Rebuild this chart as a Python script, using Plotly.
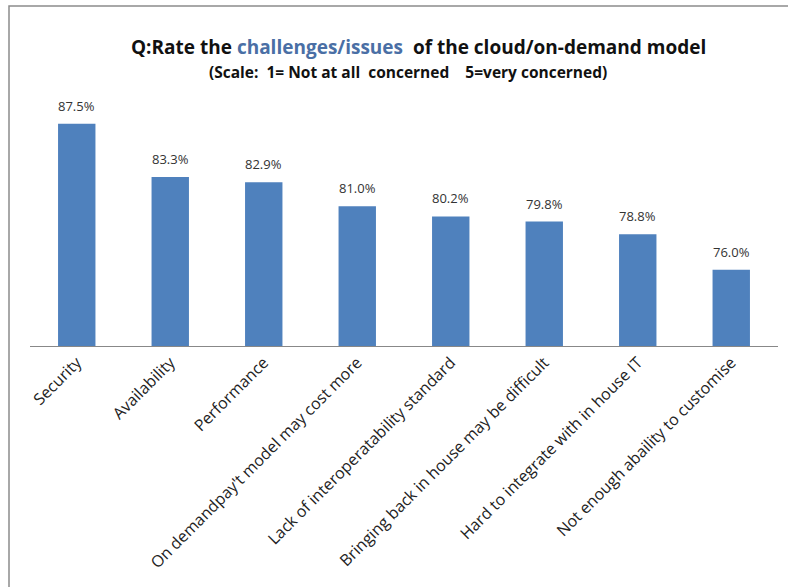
import plotly.graph_objects as go

categories = ["Security", "Availability", "Performance", "On demandpay't model may cost more",
              "Lack of interoperatability standard", "Bringing back in house may be difficult",
              "Hard to integrate with in house IT", "Not enough abaility to customise"]
values = [87.5, 83.3, 82.9, 81.0, 80.2, 79.8, 78.8, 76.0]
labels = [f"{v:.1f}%" for v in values]

FONT = "Open Sans"
W, H = 788, 587
ml, mr, mt, mb = 30, 10, 92, 241
pw, ph = W - ml - mr, H - mt - mb

def px_x(x):
    return (x - ml) / pw

def px_y(y):
    return (H - mb - y) / ph

fig = go.Figure(go.Bar(
    x=categories, y=values,
    marker=dict(color="#4F81BD", line=dict(width=0)),
))

value_annotations = [
    dict(x=c, y=v, xref="x", yref="y", text=t, showarrow=False,
         xanchor="center", yanchor="middle", yshift=18,
         font=dict(family=FONT, size=13, color="#333333"))
    for c, v, t in zip(categories, values, labels)
]

fig.update_layout(
    width=W, height=H,
    margin=dict(l=ml, r=mr, t=mt, b=mb, autoexpand=False),
    paper_bgcolor="white", plot_bgcolor="white",
    bargap=0.6, showlegend=False,
    xaxis=dict(tickangle=-45, automargin=False,
               tickfont=dict(family=FONT, size=16, color="#222222"),
               showline=True, linecolor="#888888", linewidth=1, ticks="", showgrid=False),
    yaxis=dict(range=[70, 90], visible=False, automargin=False),
    shapes=[dict(type="rect", xref="paper", yref="paper",
                 x0=px_x(9), x1=px_x(800), y0=px_y(600), y1=px_y(6),
                 line=dict(color="#8c8c8c", width=1.5), fillcolor="rgba(0,0,0,0)", layer="below")],
    annotations=value_annotations + [
        dict(text="Q:Rate the <span style='color:#4A6FA5'>challenges/issues</span>&nbsp; of the cloud/on-demand model",
             xref="paper", yref="paper", x=px_x(418), y=px_y(47), showarrow=False,
             xanchor="center", yanchor="middle",
             font=dict(family=FONT, size=19, color="#111111", weight="bold")),
        dict(text="(Scale:&nbsp; 1= Not at all&nbsp; concerned&nbsp;&nbsp;&nbsp; 5=very concerned)",
             xref="paper", yref="paper", x=px_x(408), y=px_y(72), showarrow=False,
             xanchor="center", yanchor="middle",
             font=dict(family=FONT, size=15.5, color="#111111", weight="bold")),
    ],
)

fig.write_html("out.html", config={"displayModeBar": False},
               post_script="document.body.style.margin='0';document.body.style.overflow='hidden';")
